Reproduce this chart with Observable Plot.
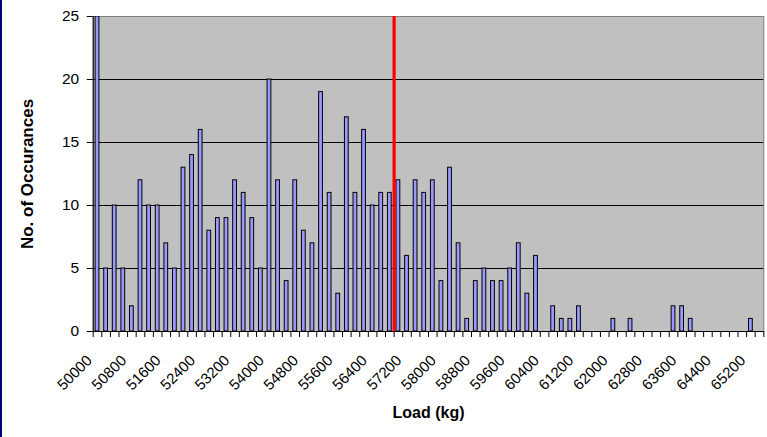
<!DOCTYPE html>
<html>
<head>
<meta charset="utf-8">
<script src="https://cdn.jsdelivr.net/npm/d3@7"></script>
<script src="https://cdn.jsdelivr.net/npm/@observablehq/plot@0.6"></script>
<style>
  html, body { margin: 0; padding: 0; background: #fff; }
  #wrap { position: relative; width: 767px; height: 437px; overflow: hidden; }
  #edge { position: absolute; left: 0; top: 0; width: 2px; height: 437px; background: #000080; }
</style>
</head>
<body>
<div id="wrap"><div id="edge"></div></div>
<script>
// Load categories (kg)
const loads = [
  50000, 50200, 50400, 50600, 50800, 51000, 51200, 51400, 51600, 51800,
  52000, 52200, 52400, 52600, 52800, 53000, 53200, 53400, 53600, 53800,
  54000, 54200, 54400, 54600, 54800, 55000, 55200, 55400, 55600, 55800,
  56000, 56200, 56400, 56600, 56800, 57000, 57200, 57400, 57600, 57800,
  58000, 58200, 58400, 58600, 58800, 59000, 59200, 59400, 59600, 59800,
  60000, 60200, 60400, 60600, 60800, 61000, 61200, 61400, 61600, 61800,
  62000, 62200, 62400, 62600, 62800, 63000, 63200, 63400, 63600, 63800,
  64000, 64200, 64400, 64600, 64800, 65000, 65200, 65400
];
// Number of occurrences per load category
const counts = [
  25, 5, 10, 5, 2, 12, 10, 10, 7, 5,
  13, 14, 16, 8, 9, 9, 12, 11, 9, 5,
  20, 12, 4, 12, 8, 7, 19, 11, 3, 17,
  11, 16, 10, 11, 11, 12, 6, 12, 11, 12,
  4, 13, 7, 1, 4, 5, 4, 4, 5, 7,
  3, 6, 0, 2, 1, 1, 2, 0, 0, 0,
  1, 0, 1, 0, 0, 0, 0, 2, 2, 1,
  0, 0, 0, 0, 0, 0, 1, 0
];
// Labelled ticks on the x axis
const xTickLabels = [50000, 50800, 51600, 52400, 53200, 54000, 54800, 55600, 56400,
  57200, 58000, 58800, 59600, 60400, 61200, 62000, 62800, 63600, 64400, 65200];
const yTicks = [0, 5, 10, 15, 20, 25];
const limitLoad = 56900; // red reference line

const step = 200;
const data = loads.map((l, i) => ({load: l, count: counts[i]}));
const boundaries = loads.map(l => l - step / 2).concat([loads[loads.length - 1] + step / 2]);
const xDomain = [boundaries[0], boundaries[boundaries.length - 1]];

const font = "'Liberation Sans', Arial, Helvetica, sans-serif";

const chart = Plot.plot({
  width: 767,
  height: 437,
  marginLeft: 92.7,
  marginRight: 3.7,
  marginTop: 16,
  marginBottom: 106,
  style: {fontFamily: font, fontSize: "15px", background: "transparent", color: "#000"},
  x: {domain: xDomain},
  y: {domain: [0, 25]},
  marks: [
    Plot.frame({fill: "#C0C0C0", stroke: "#808080"}),
    Plot.gridY({ticks: [5, 10, 15, 20], stroke: "#000", strokeOpacity: 1, strokeWidth: 1}),
    Plot.rectY(data, {
      x1: d => d.load - 44, x2: d => d.load + 44, y: "count",
      fill: "#9999FF", stroke: "#000", strokeWidth: 1, clip: true
    }),
    Plot.ruleX([limitLoad], {stroke: "#FF0000", strokeWidth: 3.2}),
    Plot.ruleY([0], {stroke: "#000"}),
    Plot.ruleX([xDomain[0]], {stroke: "#000"}),
    Plot.axisY({ticks: yTicks, tickSize: 6, tickPadding: 8, fontSize: 15.5, label: null, stroke: "#000"}),
    Plot.axisX({ticks: boundaries, tickSize: 6, tickFormat: () => "", label: null, stroke: "#000"}),
    Plot.axisX({ticks: xTickLabels, tickSize: 0, tickRotate: -45, tickPadding: 26.5, dx: -8,
      tickFormat: d => String(d), fontSize: 15, label: null}),
    Plot.text(["Load (kg)"], {frameAnchor: "bottom", dy: 86, fontWeight: "bold", fontSize: 16}),
    Plot.text(["No. of Occurances"], {frameAnchor: "left", textAnchor: "middle", rotate: -90, dx: -66,
      fontWeight: "bold", fontSize: 17})
  ]
});
document.getElementById("wrap").appendChild(chart);
</script>
</body>
</html>
